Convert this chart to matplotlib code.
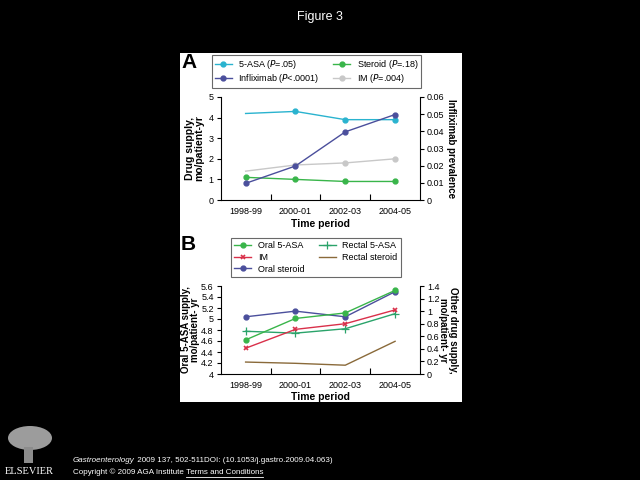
import matplotlib
matplotlib.use("Agg")
import matplotlib.pyplot as plt
from matplotlib.patches import Rectangle, Ellipse
from matplotlib.ticker import FuncFormatter, FixedLocator
from matplotlib.lines import Line2D

plt.rcParams['font.family'] = ['Liberation Sans', 'DejaVu Sans']

periods = ["1998-99", "2000-01", "2002-03", "2004-05"]

# Panel A
asa_a = [4.2, 4.3, 3.9, 3.9]
steroid_a = [1.1, 1.0, 0.9, 0.9]
im_a = [1.4, 1.7, 1.8, 2.0]
infliximab_a = [0.0097, 0.0198, 0.0397, 0.0498]

# Panel B
oral_asa_b = [4.62, 5.01, 5.11, 5.52]
im_b = [0.41, 0.71, 0.80, 1.02]
oral_steroid_b = [0.91, 1.00, 0.91, 1.31]
rectal_asa_b = [0.68, 0.65, 0.72, 0.96]
rectal_steroid_b = [0.19, 0.17, 0.14, 0.52]

C_CYAN = "#2ab3cf"
C_NAVY = "#4b4f9c"
C_GREEN = "#39b54a"
C_GRAY = "#c8c8c8"
C_RED = "#d9304a"
C_TEAL = "#2aa36a"
C_BROWN = "#8a6a3a"

TICK_FS = 6.5
LEG_FS = 6.5
LAB_FS = 7.5

fig = plt.figure(figsize=(6.4, 4.8), dpi=100, facecolor="black")

# white panel
fig.patches.append(Rectangle((180/640, 1-402/480), 282/640, 349/480,
                             transform=fig.transFigure, facecolor="white",
                             edgecolor="none", zorder=-5))

fmt = FuncFormatter(lambda v, p: "%g" % round(v, 4))
x = list(range(len(periods)))


def style_axes(ax, ax2):
    for a in (ax, ax2):
        a.spines['top'].set_visible(False)
        a.set_facecolor("none")
    ax.spines['right'].set_visible(False)
    ax2.spines['left'].set_visible(False)
    ax2.spines['bottom'].set_visible(False)
    ax.set_xlim(-0.5, 3.5)
    ax.set_xticks(x)
    ax.set_xticklabels(periods, fontsize=TICK_FS)
    ax.tick_params(axis='x', which='major', length=0, pad=5)
    ax.xaxis.set_minor_locator(FixedLocator([0.5, 1.5, 2.5]))
    ax.tick_params(axis='x', which='minor', direction='in', length=4, width=0.8)
    ax.tick_params(axis='y', labelsize=TICK_FS, length=3, width=0.8, pad=2)
    ax2.tick_params(axis='y', labelsize=TICK_FS, length=3, width=0.8, pad=2)
    ax.yaxis.set_major_formatter(fmt)
    ax2.yaxis.set_major_formatter(fmt)
    for a in (ax, ax2):
        for s in a.spines.values():
            s.set_linewidth(0.8)


# ---------- Panel A ----------
axA = fig.add_axes([220.7/640, 1-200/480, 199.3/640, 103/480])
axA2 = axA.twinx()
axA.set_ylim(0, 5)
axA.set_yticks([0, 1, 2, 3, 4, 5])
axA2.set_ylim(0, 0.06)
axA2.set_yticks([0, 0.01, 0.02, 0.03, 0.04, 0.05, 0.06])
style_axes(axA, axA2)

lw = 1.0
ms = 3.5
axA.plot(x, asa_a, color=C_CYAN, lw=lw, marker='o', ms=ms, markevery=[1, 2, 3])
axA.plot(x, steroid_a, color=C_GREEN, lw=lw, marker='o', ms=ms)
axA.plot(x, im_a, color=C_GRAY, lw=lw, marker='o', ms=ms, markevery=[1, 2, 3])
axA2.plot(x, infliximab_a, color=C_NAVY, lw=lw, marker='o', ms=ms, zorder=3)

axA.set_ylabel("Drug supply,\nmo/patient-yr", fontsize=LAB_FS, fontweight='bold', labelpad=3, linespacing=0.9)
axA2.set_ylabel("Infliximab prevalence", fontsize=7, fontweight='bold', rotation=270, labelpad=8)
axA.set_xlabel("Time period", fontsize=LAB_FS, fontweight='bold', labelpad=2)

hA = [Line2D([], [], color=C_CYAN, lw=lw, marker='o', ms=ms),
      Line2D([], [], color=C_NAVY, lw=lw, marker='o', ms=ms),
      Line2D([], [], color=C_GREEN, lw=lw, marker='o', ms=ms),
      Line2D([], [], color=C_GRAY, lw=lw, marker='o', ms=ms)]
labA = ["5-ASA ($P$=.05)", "Infliximab ($P$<.0001)", "Steroid ($P$=.18)", "IM ($P$=.004)"]
legA = fig.legend(hA, labA, ncol=2, loc='upper left',
                  bbox_to_anchor=(211.7/640, 1-55/480),
                  fontsize=LEG_FS, frameon=True, fancybox=False, edgecolor="#444444",
                  handlelength=1.9, handletextpad=0.7, borderpad=0.35, labelspacing=0.12,
                  columnspacing=1.5, borderaxespad=0)
legA.get_frame().set_linewidth(0.8)

fig.text(181/640, 1-63/480, "A", fontsize=15, fontweight='bold', va='center', ha='left')

# ---------- Panel B ----------
axB = fig.add_axes([220.7/640, 1-374/480, 199.3/640, 88/480])
axB2 = axB.twinx()
axB.set_ylim(4, 5.6)
axB.set_yticks([4, 4.2, 4.4, 4.6, 4.8, 5, 5.2, 5.4, 5.6])
axB2.set_ylim(0, 1.4)
axB2.set_yticks([0, 0.2, 0.4, 0.6, 0.8, 1, 1.2, 1.4])
style_axes(axB, axB2)

axB2.plot(x, rectal_steroid_b, color=C_BROWN, lw=lw)
axB2.plot(x, rectal_asa_b, color=C_TEAL, lw=lw, marker='+', ms=6, mew=0.9)
axB2.plot(x, im_b, color=C_RED, lw=lw, marker='x', ms=3, mew=1.2)
axB2.plot(x, oral_steroid_b, color=C_NAVY, lw=lw, marker='o', ms=ms)
axB.plot(x, oral_asa_b, color=C_GREEN, lw=lw, marker='o', ms=ms, zorder=5)
axB.set_zorder(axB2.get_zorder() + 1)

axB.set_ylabel("Oral 5-ASA supply,\nmo/patient- yr", fontsize=7, fontweight='bold', labelpad=1, linespacing=0.9)
axB2.set_ylabel("Other drug supply,\nmo/patient- yr", fontsize=7, fontweight='bold', rotation=270,
                labelpad=13, linespacing=0.9)
axB.set_xlabel("Time period", fontsize=LAB_FS, fontweight='bold', labelpad=1.5)

hB = [Line2D([], [], color=C_GREEN, lw=lw, marker='o', ms=ms),
      Line2D([], [], color=C_RED, lw=lw, marker='x', ms=3, mew=1.2),
      Line2D([], [], color=C_NAVY, lw=lw, marker='o', ms=ms),
      Line2D([], [], color=C_TEAL, lw=lw, marker='+', ms=6, mew=0.9),
      Line2D([], [], color=C_BROWN, lw=lw)]
labB = ["Oral 5-ASA", "IM", "Oral steroid", "Rectal 5-ASA", "Rectal steroid"]
legB = fig.legend(hB, labB, ncol=2, loc='upper left',
                  bbox_to_anchor=(231/640, 1-238/480),
                  fontsize=LEG_FS, frameon=True, fancybox=False, edgecolor="#444444",
                  handlelength=1.9, handletextpad=0.7, borderpad=0.35, labelspacing=0.3,
                  columnspacing=1.6, borderaxespad=0)
legB.get_frame().set_linewidth(0.8)

fig.text(181/640, 1-244/480, "B", fontsize=15, fontweight='bold', va='center', ha='left')

# ---------- slide text ----------
fig.text(0.5, 1-17/480, "Figure 3", color="white", fontsize=9, ha='center', va='center')

renderer = fig.canvas.get_renderer()
inv = fig.transFigure.inverted()


def text_run(x0, y, parts):
    xx = x0
    out = []
    for s, kw in parts:
        t = fig.text(xx, y, s, color="white", fontsize=5.8, ha='left', va='center', **kw)
        bb = t.get_window_extent(renderer=renderer)
        xx = inv.transform((bb.x1, bb.y0))[0]
        out.append((t, bb))
    return out


text_run(73/640, 1-461/480, [("Gastroenterology", dict(style='italic')),
                              (" 2009 137, 502-511DOI: (10.1053/j.gastro.2009.04.063)", {})])
parts = text_run(73/640, 1-472/480, [("Copyright © 2009 AGA Institute", {}),
                                      (" Terms and Conditions", {})])
bb = parts[1][1]
x_a = inv.transform((bb.x0 + 2, 0))[0]
x_b = inv.transform((bb.x1, 0))[0]
fig.lines.append(Line2D([x_a, x_b], [1-476.5/480, 1-476.5/480],
                        transform=fig.transFigure, color="white", lw=0.6))

# Elsevier logo (rough tree shape) and wordmark
fig.patches.append(Ellipse((30/640, 1-438/480), 44/640, 24/480, transform=fig.transFigure,
                           facecolor="#9c9c9c", edgecolor="none"))
fig.patches.append(Rectangle((24/640, 1-463/480), 9/640, 16/480, transform=fig.transFigure,
                             facecolor="#8c8c8c", edgecolor="none"))
fig.text(29/640, 1-472/480, "ELSEVIER", color="white", fontsize=7.5, family='Liberation Serif',
         ha='center', va='center')

fig.savefig("out.png", dpi=100, facecolor="black")
